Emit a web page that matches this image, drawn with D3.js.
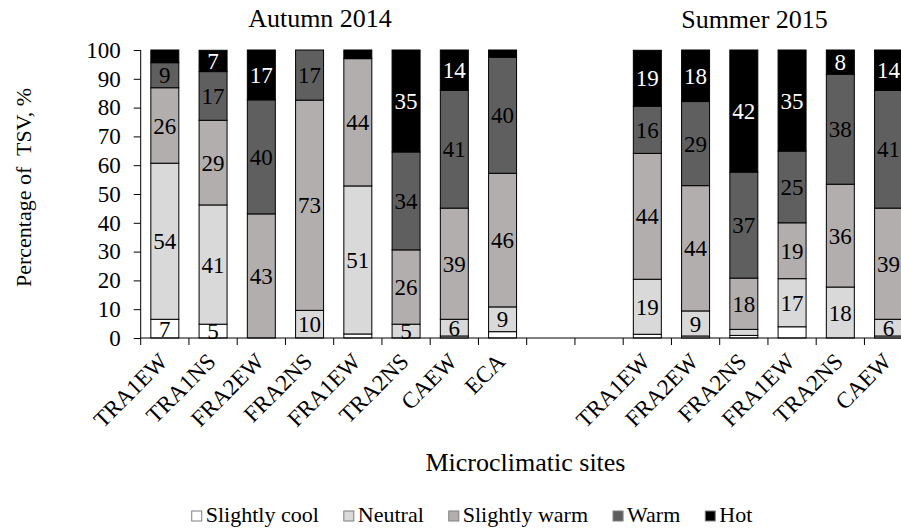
<!DOCTYPE html>
<html>
<head>
<meta charset="utf-8">
<script src="https://cdn.jsdelivr.net/npm/d3@7"></script>
<style>
  html, body { margin: 0; padding: 0; background: #fff; }
  svg text { font-family: "Liberation Serif", "DejaVu Serif", serif !important; }
</style>
</head>
<body>
<svg id="chart" width="901" height="528"></svg>
<script>
// ---- data ----
const categories = ["TRA1EW","TRA1NS","FRA2EW","FRA2NS","FRA1EW","TRA2NS","CAEW","ECA","","","TRA1EW","FRA2EW","FRA2NS","FRA1EW","TRA2NS","CAEW"];
const seriesNames = ["Slightly cool","Neutral","Slightly warm","Warm","Hot"];
const slightlyCool = [6.5,4.8,0,0,1.4,0,0.7,2.2, 0,0, 1.3,0.7,0.9,3.9,0,0.7];
const neutral      = [54.2,41.4,0,9.6,51.4,4.8,5.8,8.6, 0,0, 19.1,8.7,2.1,16.7,17.7,5.8];
const slightlyWarm = [26.2,29.4,43.1,73.0,44.2,25.8,38.6,46.4, 0,0, 43.7,43.5,17.8,19.4,35.7,38.6];
const warm         = [8.7,16.9,39.6,17.4,0,34.0,40.9,40.3, 0,0, 16.4,29.2,36.8,24.9,38.2,40.9];
const hot          = [4.4,7.4,17.3,0,3.0,35.4,14.0,2.5, 0,0, 19.4,17.9,42.4,35.1,8.4,14.0];
const yTicks = [0,10,20,30,40,50,60,70,80,90,100];
const groupTitles = ["Autumn 2014","Summer 2015"];

const colors = ["#ffffff","#d9d9d9","#b2aeae","#5f5f5f","#000000"];
const labelColors = ["#000","#000","#000","#000","#fff"];
const FONT = "Liberation Serif, DejaVu Serif, serif";

const svg = d3.select("#chart");
const W = 901, H = 528;

const rows = categories.map((c,i)=>({
  slot: i, name: c,
  "Slightly cool": slightlyCool[i], "Neutral": neutral[i], "Slightly warm": slightlyWarm[i],
  "Warm": warm[i], "Hot": hot[i]
})).filter(r => r.name !== "");

const x = d3.scaleBand().domain(d3.range(categories.length)).range([140.7, 140.7 + categories.length*48.25]).paddingInner(0.42).paddingOuter(0.21);
const y = d3.scaleLinear().domain([0,100]).range([338, 50]);

const stack = d3.stack().keys(seriesNames);
const stacked = stack(rows);

const g = svg.append("g");

stacked.forEach((layer, li) => {
  g.append("g").selectAll("rect").data(layer.filter(d => d[1]-d[0] > 0)).join("rect")
    .attr("x", d => x(d.data.slot))
    .attr("width", x.bandwidth())
    .attr("y", d => y(d[1]))
    .attr("height", d => y(d[0]) - y(d[1]))
    .attr("fill", colors[li])
    .attr("stroke", "#000")
    .attr("stroke-width", 1);
});

stacked.forEach((layer, li) => {
  g.append("g").selectAll("text").data(layer.filter(d => d[1]-d[0] >= 4.5)).join("text")
    .attr("x", d => x(d.data.slot) + x.bandwidth()/2)
    .attr("y", d => y((d[0]+d[1])/2))
    .attr("dy", "0.35em")
    .attr("text-anchor", "middle")
    .attr("font-family", FONT)
    .attr("font-size", 23)
    .attr("fill", labelColors[li])
    .text(d => Math.round(d[1]-d[0]));
});

// y axis
const yAxis = d3.axisLeft(y).tickValues(yTicks).tickSize(7).tickPadding(13);
const ya = svg.append("g").attr("transform", "translate(140.7,0)").call(yAxis).attr("font-family", FONT);
ya.select(".domain").attr("stroke", "#000").attr("d", "M0,50V338");
ya.selectAll(".tick line").attr("stroke", "#000");
ya.selectAll(".tick text").attr("font-size", 23).attr("fill", "#000");

// x axis baseline + boundary ticks
const xa = svg.append("g").attr("font-family", FONT);
xa.append("line").attr("x1", x.range()[0]).attr("x2", W).attr("y1", y(0)).attr("y2", y(0)).attr("stroke", "#000");
const bounds = d3.range(categories.length + 1).map(i => x.range()[0] + i * x.step());
xa.selectAll("line.tk").data(bounds).join("line").attr("class","tk")
  .attr("x1", d=>d).attr("x2", d=>d).attr("y1", y(0)).attr("y2", y(0)+7).attr("stroke", "#000");

xa.selectAll("text").data(rows).join("text")
  .attr("transform", d => `translate(${x(d.slot) + x.bandwidth()/2 + 4},${y(0) + 25}) rotate(-45)`)
  .attr("text-anchor", "end")
  .attr("font-size", 23)
  .text(d => d.name);

// titles
svg.append("text").attr("x", 320).attr("y", 27).attr("text-anchor","middle").attr("font-family", FONT).attr("font-size", 26).text(groupTitles[0]);
svg.append("text").attr("x", 754.5).attr("y", 28).attr("text-anchor","middle").attr("font-family", FONT).attr("font-size", 26).text(groupTitles[1]);

svg.append("text").attr("transform","translate(31,187.5) rotate(-90)").attr("text-anchor","middle").attr("font-family", FONT).attr("font-size", 22).style("white-space","pre").text("Percentage of  TSV, %");
svg.append("text").attr("x", 525.5).attr("y", 471).attr("text-anchor","middle").attr("font-family", FONT).attr("font-size", 26).text("Microclimatic sites");

// legend
const lg = svg.append("g").attr("font-family", FONT);
let cx = 0;
seriesNames.forEach((n,i) => {
  const it = lg.append("g");
  it.append("rect").attr("x", 0).attr("y", -11).attr("width", 10).attr("height", 10).attr("fill", colors[i]).attr("stroke", "#7f7f7f");
  const t = it.append("text").attr("x", 14).attr("y", 0).attr("font-size", 22).text(n);
  const w = t.node().getComputedTextLength();
  it.attr("transform", `translate(${cx},0)`);
  cx += 14 + w + 25;
});
const total = cx - 25;
lg.attr("transform", `translate(${472 - total/2},522)`);
</script>
</body>
</html>
